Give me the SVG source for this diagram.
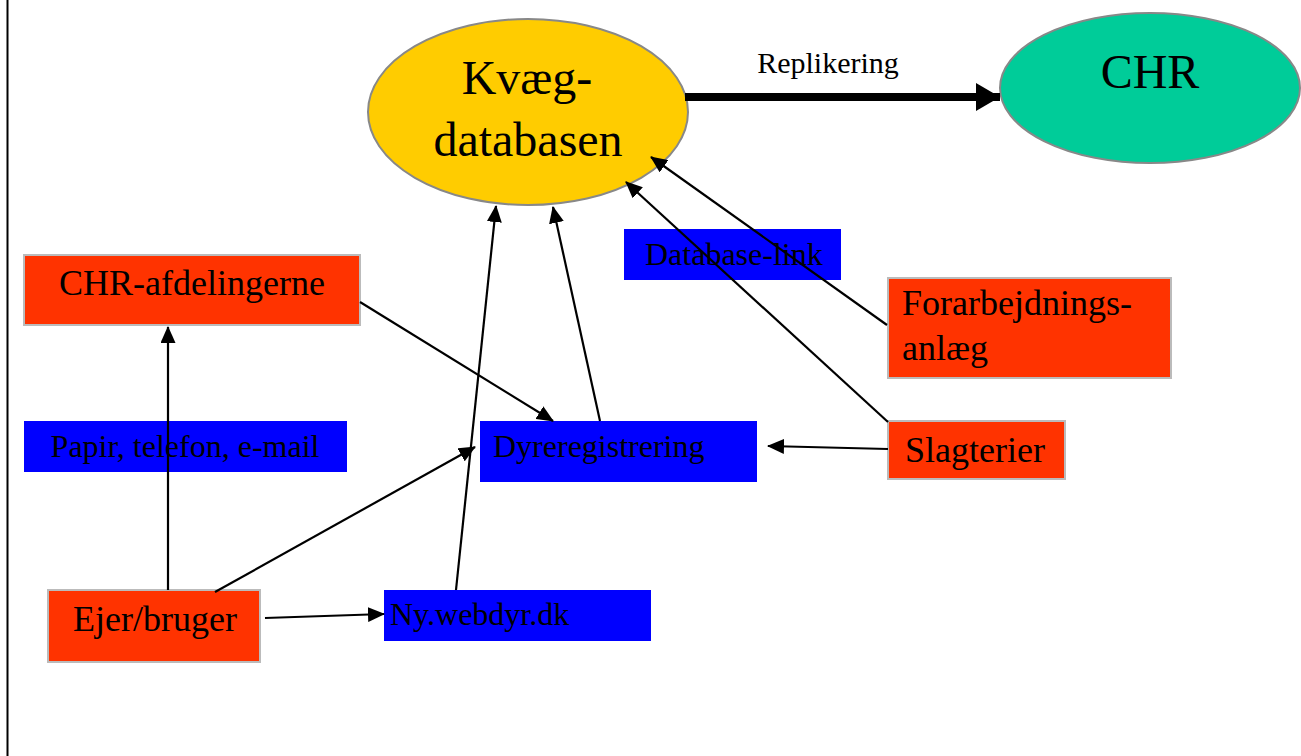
<svg xmlns="http://www.w3.org/2000/svg" width="1301" height="756" viewBox="0 0 1301 756">
<defs>
<style>
.t{font-family:"Liberation Serif","Times New Roman",serif;fill:#000}
.red{fill:#FF3300;stroke:#BBBBBB;stroke-width:2}
.blue{fill:#0000FF;stroke:none}
.c{stroke:#000;stroke-width:2.2;fill:none;marker-end:url(#ah)}
</style>
<marker id="ah" markerUnits="userSpaceOnUse" markerWidth="17" markerHeight="15" refX="16" refY="7.5" orient="auto">
<path d="M0,0 L17,7.5 L0,15 Z" fill="#000"/>
</marker>
<marker id="ahBig" markerUnits="userSpaceOnUse" markerWidth="24" markerHeight="28" refX="24" refY="14" orient="auto">
<path d="M0,0 L24,14 L0,28 Z" fill="#000"/>
</marker>
</defs>
<rect x="0" y="0" width="1301" height="756" fill="#FFFFFF"/>
<line x1="7.5" y1="0" x2="7.5" y2="756" stroke="#000" stroke-width="2"/>

<g id="kvaeg">
<ellipse cx="528" cy="112" rx="160" ry="93" fill="#FFCC00" stroke="#888888" stroke-width="2"/>
<text class="t" x="527" y="94" font-size="48" text-anchor="middle">Kvæg-</text>
<text class="t" x="528" y="156" font-size="48" text-anchor="middle">databasen</text>
</g>
<g id="chr">
<ellipse cx="1150" cy="88" rx="150" ry="75" fill="#00CC99" stroke="#888888" stroke-width="2"/>
<text class="t" x="1150" y="88" font-size="48" text-anchor="middle">CHR</text>
</g>
<g id="chr-afd">
<rect class="red" x="24" y="255" width="336" height="70"/>
<text class="t" x="192" y="295" font-size="36" text-anchor="middle">CHR-afdelingerne</text>
</g>
<g id="papir">
<rect class="blue" x="24" y="421" width="323" height="51"/>
<text class="t" x="185" y="457" font-size="32" text-anchor="middle">Papir, telefon, e-mail</text>
</g>
<g id="ejer">
<rect class="red" x="48" y="590" width="212" height="72"/>
<text class="t" x="155" y="631" font-size="36" text-anchor="middle">Ejer/bruger</text>
</g>
<g id="webdyr">
<rect class="blue" x="384" y="590" width="267" height="51"/>
<text class="t" x="390" y="625" font-size="32">Ny.webdyr.dk</text>
</g>
<g id="dyrereg">
<rect class="blue" x="480" y="421" width="277" height="61"/>
<text class="t" x="493" y="457" font-size="32">Dyreregistrering</text>
</g>
<g id="dblink">
<rect class="blue" x="624" y="229" width="217" height="51"/>
<text class="t" x="645" y="265" font-size="32">Database-link</text>
</g>
<g id="forarb">
<rect class="red" x="888" y="278" width="283" height="100"/>
<text class="t" x="902" y="315" font-size="36">Forarbejdnings-</text>
<text class="t" x="902" y="360" font-size="36">anlæg</text>
</g>
<g id="slagterier">
<rect class="red" x="888" y="421" width="177" height="58"/>
<text class="t" x="905" y="462" font-size="36">Slagterier</text>
</g>

<g id="connectors">
<line x1="685" y1="97" x2="1000" y2="97" stroke="#000" stroke-width="8" marker-end="url(#ahBig)"/>
<text class="t" x="828" y="73" font-size="30" text-anchor="middle">Replikering</text>
<line class="c" x1="168" y1="590" x2="168" y2="327"/>
<line class="c" x1="360" y1="302" x2="553" y2="421"/>
<line class="c" x1="215" y1="592" x2="475" y2="447"/>
<line class="c" x1="265" y1="618" x2="384" y2="614"/>
<line class="c" x1="456" y1="590" x2="496" y2="206"/>
<line class="c" x1="600" y1="421" x2="553" y2="207"/>
<line class="c" x1="888" y1="422" x2="626" y2="182"/>
<line class="c" x1="887" y1="325" x2="651" y2="157"/>
<line class="c" x1="888" y1="449" x2="768" y2="446"/>
</g>
</svg>
